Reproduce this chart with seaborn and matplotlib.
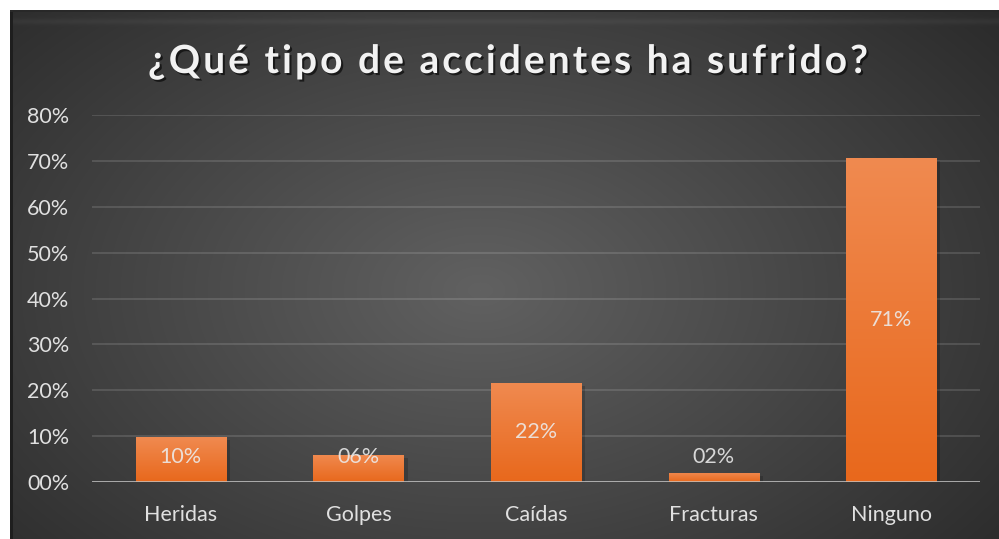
import numpy as np
import matplotlib
matplotlib.use("Agg")
import matplotlib.pyplot as plt
import matplotlib.patheffects as pe
from matplotlib.font_manager import findfont, FontProperties
from matplotlib.ft2font import FT2Font
from matplotlib.colors import LinearSegmentedColormap
import seaborn as sns

# ---- data ----
categories = ["Heridas", "Golpes", "Caídas", "Fracturas", "Ninguno"]
values = [9.8, 5.9, 21.6, 2.0, 70.6]
value_labels = ["10%", "06%", "22%", "02%", "71%"]
ytick_values = [0, 10, 20, 30, 40, 50, 60, 70, 80]
ytick_labels = ["00%", "10%", "20%", "30%", "40%", "50%", "60%", "70%", "80%"]
title = "¿Qué tipo de accidentes ha sufrido?"

sns.set_theme(style="dark")
plt.rcParams['font.family'] = ['Lato', 'DejaVu Sans']

W, H = 999, 539
fig = plt.figure(figsize=(W / 100, H / 100), dpi=100)

# ---- background image ----
bg = fig.add_axes([0, 0, 1, 1])
yy, xx = np.mgrid[0:H, 0:W].astype(float)
r = np.sqrt(((xx - 480) / 620) ** 2 + ((yy - 290) / 400) ** 2)
v = 97 - 50 * r
v = np.clip(v, 40, 100)
img = np.stack([v, v, v], axis=-1)
# top bevel band
band = (yy >= 14) & (yy <= 26)
img[band] += (8 * np.exp(-((yy[band] - 21) / 3.0) ** 2))[:, None]
# dark left/top edge
img[(xx >= 10) & (xx < 13)] = 30
img[(yy >= 10) & (yy < 12)] = 40
# white outside
img[(xx < 10) | (yy < 10)] = 255
img = np.clip(img, 0, 255) / 255.0
bg.imshow(img, extent=[0, W, H, 0], aspect='auto', interpolation='bilinear')
bg.set_xlim(0, W)
bg.set_ylim(H, 0)
bg.axis('off')
bg.set_zorder(-10)

# ---- main axes ----
left, right = 92 / W, 980 / W
top, bottom = 1 - 115 / H, 1 - 482 / H
ax = fig.add_axes([left, bottom, right - left, top - bottom])
ax.set_facecolor('none')

sns.barplot(x=categories, y=values, color="#ee7a33", width=0.507, ax=ax,
            saturation=1, zorder=3)
ax.set_xlim(-0.5, len(categories) - 0.5)
ax.set_ylim(0, 80)

# gradient fill & shadow on bars
grad = np.linspace(0, 1, 256).reshape(-1, 1)
cmap = LinearSegmentedColormap.from_list("og", ["#e8681c", "#f08a50"])
for p in ax.patches:
    x0, y0 = p.get_x(), p.get_y()
    w, h = p.get_width(), p.get_height()
    p.set_edgecolor('none')
    p.set_path_effects([pe.SimplePatchShadow(offset=(3, -2), shadow_rgbFace='black', alpha=0.18), pe.Normal()])
    im = ax.imshow(grad, extent=[x0, x0 + w, y0, y0 + h], origin='lower',
                   cmap=cmap, aspect='auto', zorder=4, interpolation='bilinear')
    im.set_clip_path(p)
ax.set_xlim(-0.5, len(categories) - 0.5)
ax.set_ylim(0, 80)

# grid
ax.set_yticks(ytick_values)
ax.set_yticklabels(ytick_labels)
ax.yaxis.grid(True, color="white", alpha=0.13, linewidth=1.4, zorder=1)
ax.xaxis.grid(False)
ax.set_axisbelow(True)
for s in ax.spines.values():
    s.set_visible(False)
ax.axhline(0, color="#c4c4c4", linewidth=2, alpha=0.85, zorder=6)

ax.tick_params(axis='both', length=0, colors="#e0e0e0", labelsize=15.5)
ax.tick_params(axis='y', pad=16.5)
ax.tick_params(axis='x', pad=16.5)
for t in ax.get_xticklabels() + ax.get_yticklabels():
    t.set_color("#e0e0e0")
ax.set_xlabel("")
ax.set_ylabel("")

# data labels
for i, (val, lab) in enumerate(zip(values, value_labels)):
    ypos = max(val / 2, 5.45)
    ax.text(i, ypos, lab, ha='center', va='center', color="#ececec", alpha=0.88,
            fontsize=15.5, zorder=7)

# ---- title with letter spacing ----
tsize = 28
fp = FontProperties(family='Lato', weight='bold', size=tsize)
ft = FT2Font(findfont(fp))
ft.set_size(tsize, 100)
adv = []
for ch in title:
    g = ft.load_char(ord(ch))
    adv.append(g.linearHoriAdvance / 65536.0)
target = 720
sp = (target - sum(adv)) / (len(title) - 1)
x = 148
baseline = 1 - 73 / H
for ch, a in zip(title, adv):
    if ch != " ":
        fig.text(x / W, baseline, ch, fontproperties=fp, color="#f2f2f2",
                 ha='left', va='baseline',
                 path_effects=[pe.withSimplePatchShadow(offset=(1.5, -1.5), shadow_rgbFace='black', alpha=0.6)])
    x += a + sp

fig.savefig("out.png", dpi=100)
